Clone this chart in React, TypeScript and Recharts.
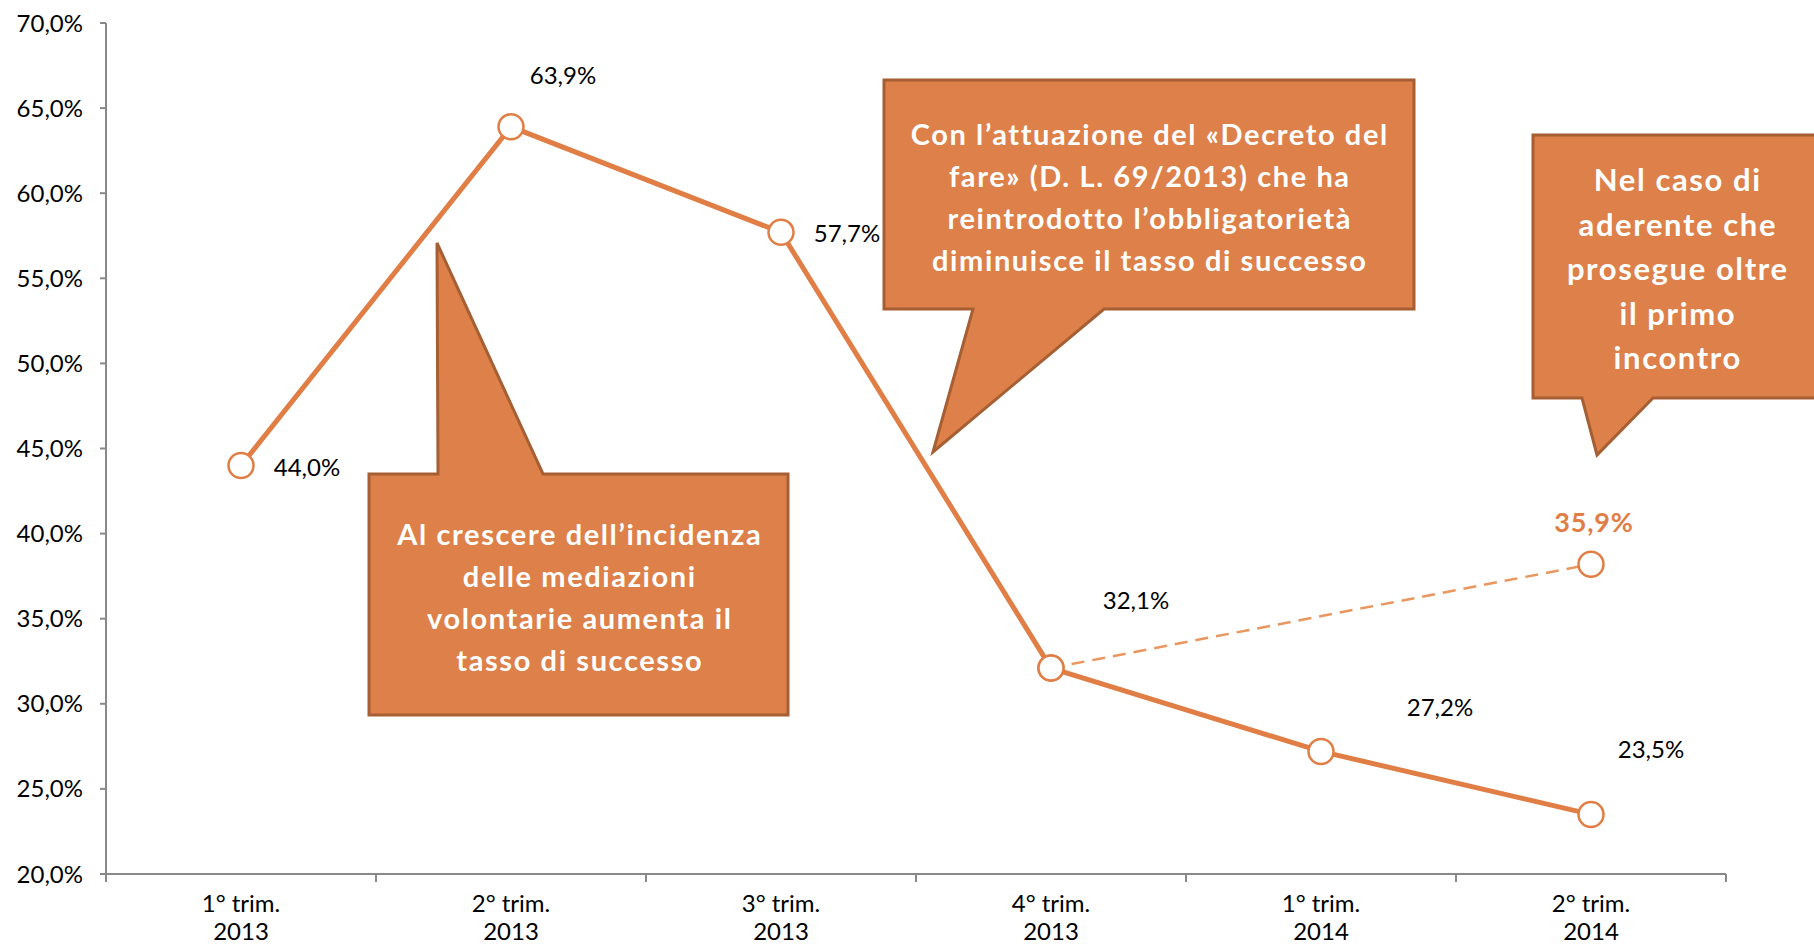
import React from 'react';
import { LineChart, Line, XAxis, YAxis, LabelList } from 'recharts';

// ---- data ----
const quarterLabels = ['1° trim.', '2° trim.', '3° trim.', '4° trim.', '1° trim.', '2° trim.'];
const yearLabels = ['2013', '2013', '2013', '2013', '2014', '2014'];
const successRate = [44.0, 63.9, 57.7, 32.1, 27.2, 23.5];
// dashed branch: "aderente che prosegue oltre il primo incontro"
const continuedRate: (number | null)[] = [null, null, null, 32.1, null, 38.2];
const continuedLabels: (string | null)[] = [null, null, null, null, null, '35,9%'];
const yTicks = [20, 25, 30, 35, 40, 45, 50, 55, 60, 65, 70];

const callout1Lines = ['Al crescere dell’incidenza', 'delle mediazioni', 'volontarie aumenta il', 'tasso di successo'];
const callout2Lines = ['Con l’attuazione del «Decreto del', 'fare» (D. L. 69/2013) che ha', 'reintrodotto l’obbligatorietà', 'diminuisce il tasso di successo'];
const callout3Lines = ['Nel caso di', 'aderente che', 'prosegue oltre', 'il primo', 'incontro'];

// ---- styling ----
const ORANGE = '#E07E45';
const DASH_ORANGE = '#E9965F';
const BOX_FILL = '#DE8049';
const BOX_STROKE = '#A65E33';
const AXIS = '#898989';
const FONT = 'Lato, "Liberation Sans", sans-serif';
const mainLabelOffsets = [[66, 2], [52, -51], [66, 1], [85, -68], [119, -44], [60, -65]];
const altLabelOffset = [3, -42];

const data = quarterLabels.map((q, i) => ({
  x: i + 0.5,
  quarter: q,
  year: yearLabels[i],
  main: successRate[i],
  alt: continuedRate[i],
  altLabel: continuedLabels[i],
}));

const xTicks: number[] = [];
for (let i = 0; i <= quarterLabels.length; i++) {
  xTicks.push(i);
  if (i < quarterLabels.length) xTicks.push(i + 0.5);
}

const fmtPct = (v: number) => v.toFixed(1).replace('.', ',') + '%';

const XTick = (props: any) => {
  const { x, y, payload } = props;
  const v = payload.value as number;
  if (Number.isInteger(v)) {
    return <line x1={x} x2={x} y1={y} y2={y + 8} stroke={AXIS} strokeWidth={2} />;
  }
  const i = Math.floor(v);
  return (
    <g>
      <text x={x} y={y + 38} textAnchor="middle" fontSize={24} fill="#000" fontFamily={FONT}>{quarterLabels[i]}</text>
      <text x={x} y={y + 66} textAnchor="middle" fontSize={24} fill="#000" fontFamily={FONT}>{yearLabels[i]}</text>
    </g>
  );
};

const Dot = (props: any) => {
  const { cx, cy, value, index } = props;
  if (value == null || cx == null || cy == null) return <g key={index} />;
  return <circle key={index} cx={cx} cy={cy} r={12.5} fill="#fff" stroke={ORANGE} strokeWidth={2.5} />;
};

const MainLabel = (props: any) => {
  const { x, y, value, index } = props;
  if (value == null) return null;
  const [dx, dy] = mainLabelOffsets[index];
  return (
    <text x={x + dx} y={y + dy + 8.5} textAnchor="middle" fontSize={24} fill="#000" fontFamily={FONT}>
      {fmtPct(value)}
    </text>
  );
};

const AltLabel = (props: any) => {
  const { x, y, value } = props;
  if (value == null) return null;
  return (
    <text x={x + altLabelOffset[0]} y={y + altLabelOffset[1] + 10} textAnchor="middle" fontSize={27} fontWeight={700} fill={ORANGE} fontFamily={FONT} letterSpacing={0.8}>
      {value}
    </text>
  );
};

const Callout = ({ points, lines, cx, cy0, step, fontSize }: { points: number[][]; lines: string[]; cx: number; cy0: number; step: number; fontSize: number }) => (
  <g>
    <polygon points={points.map((p) => p.join(',')).join(' ')} fill={BOX_FILL} stroke={BOX_STROKE} strokeWidth={3} strokeLinejoin="miter" />
    {lines.map((l, i) => (
      <text key={i} x={cx + 0.8} y={cy0 + i * step + fontSize * 0.36} textAnchor="middle" fontSize={fontSize} fontWeight={700} fill="#fff" fontFamily={FONT} letterSpacing={1.6}>
        {l}
      </text>
    ))}
  </g>
);

export default function App() {
  return (
    <div style={{ position: 'absolute', left: 0, top: 0, width: 1814, height: 945, background: '#fff', fontFamily: FONT }}>
      <LineChart width={1814} height={945} data={data} margin={{ top: 23, right: 88, bottom: 0, left: 0 }}>
        <XAxis
          dataKey="x"
          type="number"
          domain={[0, 6]}
          ticks={xTicks}
          interval={0}
          tick={<XTick />}
          tickLine={false}
          tickSize={0}
          tickMargin={0}
          axisLine={{ stroke: AXIS, strokeWidth: 2 }}
          height={71}
        />
        <YAxis
          type="number"
          domain={[20, 70]}
          ticks={yTicks}
          interval={0}
          width={106}
          tickSize={6}
          tickMargin={17}
          tickFormatter={fmtPct}
          tick={{ fill: '#000', fontSize: 24, fontFamily: FONT }}
          tickLine={{ stroke: AXIS, strokeWidth: 2 }}
          axisLine={{ stroke: AXIS, strokeWidth: 2 }}
        />
        <Line
          dataKey="alt"
          stroke={DASH_ORANGE}
          strokeWidth={2.5}
          strokeDasharray="13 8"
          connectNulls
          dot={<Dot />}
          activeDot={false}
          isAnimationActive={false}
        >
          <LabelList dataKey="altLabel" content={<AltLabel />} />
        </Line>
        <Line
          dataKey="main"
          stroke={ORANGE}
          strokeWidth={5}
          dot={<Dot />}
          activeDot={false}
          isAnimationActive={false}
        >
          <LabelList dataKey="main" content={<MainLabel />} />
        </Line>
      </LineChart>
      <svg width={1814} height={945} style={{ position: 'absolute', left: 0, top: 0, pointerEvents: 'none' }}>
        <Callout
          points={[[369, 474], [438, 474], [437, 243], [543, 474], [788, 474], [788, 715], [369, 715]]}
          lines={callout1Lines}
          cx={579}
          cy0={535}
          step={41.7}
          fontSize={29}
        />
        <Callout
          points={[[884, 80], [1414, 80], [1414, 309], [1104, 309], [933, 452], [973, 309], [884, 309]]}
          lines={callout2Lines}
          cx={1149}
          cy0={135}
          step={41.7}
          fontSize={29}
        />
        <Callout
          points={[[1533, 135], [1824, 135], [1824, 398], [1653, 398], [1597, 455], [1582, 398], [1533, 398]]}
          lines={callout3Lines}
          cx={1677}
          cy0={180}
          step={44.5}
          fontSize={31}
        />
      </svg>
    </div>
  );
}
